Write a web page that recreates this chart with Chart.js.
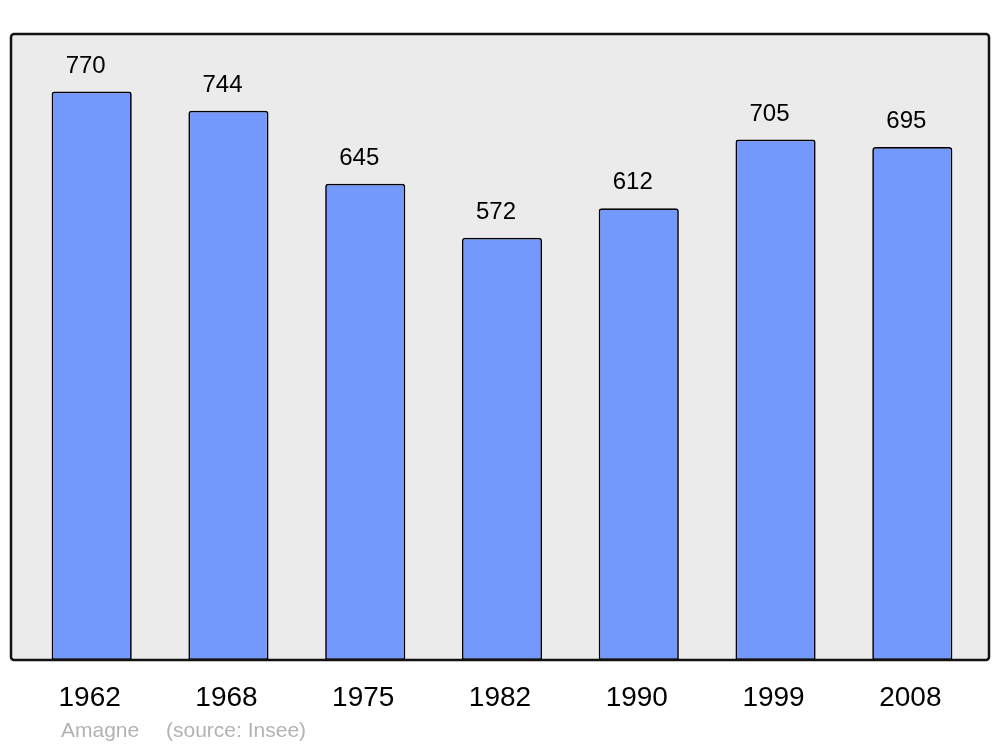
<!DOCTYPE html>
<html>
<head>
<meta charset="utf-8">
<script src="https://cdn.jsdelivr.net/npm/chart.js@4.4.1/dist/chart.umd.min.js"></script>
<style>
html,body{margin:0;padding:0;background:#fff;}
#wrap{width:1000px;height:747px;}
</style>
</head>
<body>
<div id="wrap"><canvas id="c" width="1000" height="747"></canvas></div>
<script>
const years = ['1962','1968','1975','1982','1990','1999','2008'];
const population = [770, 744, 645, 572, 612, 705, 695];
const footerName = 'Amagne';
const footerSource = '(source: Insee)';

const FONT = '"Liberation Sans", Arial, sans-serif';

const framePlugin = {
  id: 'frame',
  beforeDraw(chart) {
    const ctx = chart.ctx;
    const a = chart.chartArea;
    const x0 = 11, x1 = 989, y0 = a.top, y1 = a.bottom;
    ctx.save();
    ctx.beginPath();
    ctx.roundRect(x0, y0, x1 - x0, y1 - y0, 3);
    ctx.fillStyle = '#ebebeb';
    ctx.fill();
    ctx.restore();
  },
  afterDatasetsDraw(chart) {
    const ctx = chart.ctx;
    const a = chart.chartArea;
    const x0 = 11, x1 = 989, y0 = a.top, y1 = a.bottom;
    ctx.save();
    ctx.beginPath();
    ctx.roundRect(x0, y0, x1 - x0, y1 - y0, 3);
    ctx.lineWidth = 2.5;
    ctx.strokeStyle = '#111';
    ctx.stroke();
    // value labels
    const meta = chart.getDatasetMeta(0);
    ctx.fillStyle = '#000';
    ctx.font = '24px ' + FONT;
    ctx.textAlign = 'center';
    ctx.textBaseline = 'alphabetic';
    meta.data.forEach((bar, i) => {
      ctx.fillText(String(population[i]), bar.x - 6, bar.y - 19);
    });
    // footer
    ctx.fillStyle = '#b3b3b3';
    ctx.font = '21px ' + FONT;
    ctx.textAlign = 'left';
    ctx.fillText(footerName, 61, 737);
    ctx.fillText(footerSource, 166, 737);
    ctx.restore();
  }
};

new Chart(document.getElementById('c'), {
  type: 'bar',
  data: {
    labels: years,
    datasets: [{
      data: population,
      backgroundColor: '#7399ff',
      borderColor: '#000',
      borderWidth: 1.7,
      borderRadius: {topLeft: 3, topRight: 3, bottomLeft: 0, bottomRight: 0},
      borderSkipped: false,
      categoryPercentage: 1,
      barPercentage: 0.586
    }]
  },
  plugins: [framePlugin],
  options: {
    responsive: false,
    animation: false,
    layout: { padding: { left: 23.3, right: 19.3, top: 34, bottom: 0 } },
    plugins: { legend: { display: false }, tooltip: { enabled: false }, title: { display: false } },
    scales: {
      x: {
        grid: { display: false, drawTicks: false },
        border: { display: false },
        ticks: { color: '#000', font: { size: 28, family: FONT }, padding: 21, maxRotation: 0, labelOffset: -2 },
        afterFit(s) { s.height = 87; }
      },
      y: {
        display: false,
        min: 0,
        max: 848
      }
    }
  }
});
</script>
</body>
</html>
